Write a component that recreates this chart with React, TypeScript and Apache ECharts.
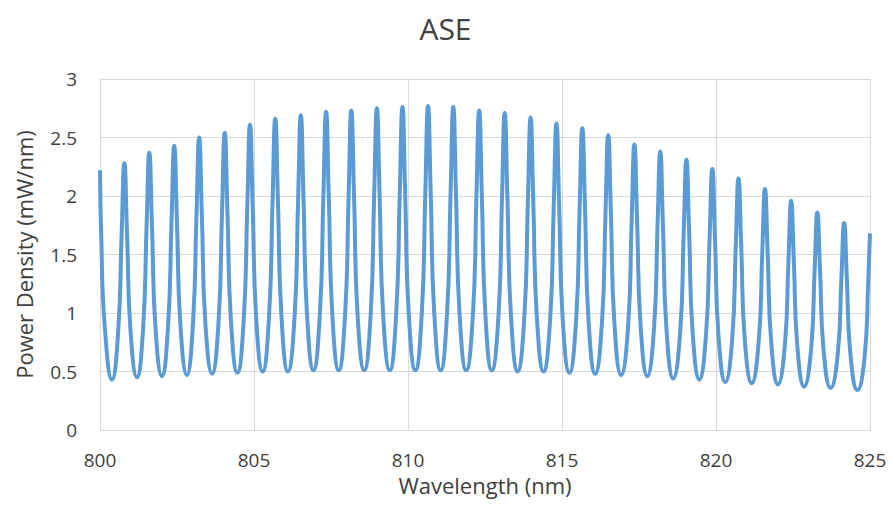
import React, { useEffect, useRef } from "react";
import * as echarts from "echarts";

const FONT = "'Open Sans', 'Noto Sans', sans-serif";
const TEXT = "#404040";
const GRID = "#d9d9d9";
const LINE = "#5B9BD5";

const xTicks = { min: 800, max: 825, step: 5 };
const yTicks = { min: 0, max: 3, step: 0.5 };

// Start of the trace (falling flank of a peak just left of 800 nm)
const startNm = [800.0, 800.04, 800.15];
const startMw = [2.22, 1.66, 0.9];

// Troughs (minima)
const troughNm = [800.39, 801.2, 802.01, 802.82, 803.64, 804.46, 805.28, 806.1, 806.93, 807.75, 808.58, 809.41, 810.24, 811.06, 811.89, 812.72, 813.56, 814.4, 815.24, 816.08, 816.92, 817.77, 818.61, 819.46, 820.3, 821.16, 822.01, 822.86, 823.72, 824.59];
const troughMw = [0.43, 0.45, 0.46, 0.47, 0.48, 0.49, 0.5, 0.5, 0.51, 0.51, 0.51, 0.51, 0.51, 0.51, 0.51, 0.51, 0.5, 0.5, 0.49, 0.48, 0.47, 0.46, 0.44, 0.43, 0.41, 0.4, 0.39, 0.37, 0.36, 0.34];

// Rising flank, lower point
const riseLowNm = [800.59, 801.4, 802.21, 803.02, 803.85, 804.67, 805.49, 806.32, 807.14, 807.96, 808.79, 809.62, 810.45, 811.27, 812.11, 812.94, 813.78, 814.62, 815.46, 816.3, 817.15, 817.99, 818.84, 819.68, 820.53, 821.39, 822.24, 823.09, 823.96, 824.83];
const riseLowMw = [0.84, 0.87, 0.89, 0.92, 0.93, 0.96, 0.98, 0.98, 1.0, 1.0, 1.0, 1.01, 1.01, 1.01, 1.0, 0.99, 0.98, 0.97, 0.95, 0.93, 0.9, 0.88, 0.85, 0.83, 0.79, 0.77, 0.74, 0.7, 0.67, 0.64];

// Rising flank, upper point
const riseHighNm = [800.7, 801.51, 802.32, 803.13, 803.96, 804.78, 805.6, 806.43, 807.25, 808.07, 808.9, 809.73, 810.56, 811.38, 812.22, 813.05, 813.89, 814.73, 815.57, 816.41, 817.26, 818.1, 818.95, 819.79, 820.64, 821.5, 822.35, 823.2, 824.07, 824.94];
const riseHighMw = [1.65, 1.72, 1.76, 1.81, 1.84, 1.89, 1.93, 1.95, 1.97, 1.98, 1.99, 2.0, 2.0, 2.0, 1.98, 1.96, 1.93, 1.9, 1.87, 1.83, 1.77, 1.73, 1.67, 1.62, 1.56, 1.5, 1.43, 1.35, 1.29, 1.25];

// Peaks (maxima)
const peakNm = [800.79, 801.6, 802.41, 803.22, 804.05, 804.87, 805.69, 806.52, 807.34, 808.16, 808.99, 809.82, 810.65, 811.47, 812.31, 813.14, 813.98, 814.82, 815.66, 816.5, 817.35, 818.19, 819.04, 819.88, 820.73, 821.59, 822.44, 823.29, 824.16];
const peakMw = [2.28, 2.37, 2.43, 2.5, 2.54, 2.61, 2.66, 2.69, 2.72, 2.73, 2.75, 2.76, 2.77, 2.76, 2.73, 2.71, 2.67, 2.62, 2.58, 2.52, 2.44, 2.38, 2.31, 2.23, 2.15, 2.06, 1.96, 1.86, 1.77];

// Falling flank, upper point
const fallHighNm = [800.88, 801.69, 802.5, 803.31, 804.14, 804.96, 805.78, 806.61, 807.43, 808.25, 809.08, 809.91, 810.74, 811.56, 812.4, 813.23, 814.07, 814.91, 815.75, 816.59, 817.44, 818.28, 819.13, 819.97, 820.82, 821.68, 822.53, 823.38, 824.25];
const fallHighMw = [1.66, 1.72, 1.76, 1.81, 1.84, 1.89, 1.93, 1.95, 1.97, 1.98, 1.99, 2.0, 2.0, 2.0, 1.98, 1.96, 1.93, 1.9, 1.87, 1.82, 1.77, 1.72, 1.67, 1.61, 1.56, 1.49, 1.42, 1.35, 1.28];

// Falling flank, lower point
const fallLowNm = [800.99, 801.8, 802.61, 803.42, 804.25, 805.07, 805.89, 806.72, 807.54, 808.36, 809.19, 810.02, 810.85, 811.67, 812.51, 813.34, 814.18, 815.02, 815.86, 816.7, 817.55, 818.39, 819.24, 820.08, 820.93, 821.79, 822.64, 823.49, 824.36];
const fallLowMw = [0.85, 0.88, 0.9, 0.92, 0.94, 0.96, 0.98, 0.99, 1.0, 1.0, 1.0, 1.01, 1.01, 1.01, 1.0, 0.99, 0.98, 0.96, 0.94, 0.92, 0.9, 0.87, 0.84, 0.81, 0.79, 0.76, 0.72, 0.69, 0.66];

// End of the trace at 825 nm
const endNm = [825.0];
const endMw = [1.68];

function buildTrace(): [number, number][] {
  const pts: [number, number][] = [];
  startNm.forEach((x, i) => pts.push([x, startMw[i]]));
  for (let i = 0; i < troughNm.length; i++) {
    pts.push([troughNm[i], troughMw[i]]);
    pts.push([riseLowNm[i], riseLowMw[i]]);
    pts.push([riseHighNm[i], riseHighMw[i]]);
    if (i < peakNm.length) {
      pts.push([peakNm[i], peakMw[i]]);
      pts.push([fallHighNm[i], fallHighMw[i]]);
      pts.push([fallLowNm[i], fallLowMw[i]]);
    }
  }
  endNm.forEach((x, i) => pts.push([x, endMw[i]]));
  return pts;
}

export default function App() {
  const ref = useRef<HTMLDivElement>(null);
  useEffect(() => {
    if (!ref.current) return;
    const chart = echarts.init(ref.current, undefined, { renderer: "svg" });
    chart.setOption({
      animation: false,
      backgroundColor: "#ffffff",
      title: {
        text: "ASE",
        left: "center",
        top: 8,
        textStyle: { fontFamily: FONT, fontSize: 30, fontWeight: "normal", color: TEXT },
      },
      grid: { left: 100, right: 21, top: 79, bottom: 80, containLabel: false },
      xAxis: {
        type: "value",
        min: xTicks.min,
        max: xTicks.max,
        interval: xTicks.step,
        name: "Wavelength (nm)",
        nameLocation: "middle",
        nameGap: 44,
        nameTextStyle: { fontFamily: FONT, fontSize: 22, color: TEXT },
        axisLine: { show: true, lineStyle: { color: GRID, width: 1 } },
        axisTick: { show: false },
        axisLabel: { fontFamily: FONT, fontSize: 19, color: TEXT, margin: 20 },
        splitLine: { show: true, lineStyle: { color: GRID, width: 1 } },
      },
      yAxis: {
        type: "value",
        min: yTicks.min,
        max: yTicks.max,
        interval: yTicks.step,
        name: "Power Density (mW/nm)",
        nameLocation: "middle",
        nameGap: 65,
        nameTextStyle: { fontFamily: FONT, fontSize: 22, color: TEXT },
        axisLine: { show: true, lineStyle: { color: GRID, width: 1 } },
        axisTick: { show: false },
        axisLabel: { fontFamily: FONT, fontSize: 19, color: TEXT, margin: 23 },
        splitLine: { show: true, lineStyle: { color: GRID, width: 1 } },
      },
      series: [
        {
          type: "line",
          data: buildTrace(),
          showSymbol: false,
          smooth: 0.5,
          lineStyle: { color: LINE, width: 4 },
          itemStyle: { color: LINE },
        },
      ],
    });
    return () => chart.dispose();
  }, []);
  return (
    <div
      ref={ref}
      style={{ position: "absolute", left: 0, top: 0, width: 891, height: 510, background: "#fff" }}
    />
  );
}
